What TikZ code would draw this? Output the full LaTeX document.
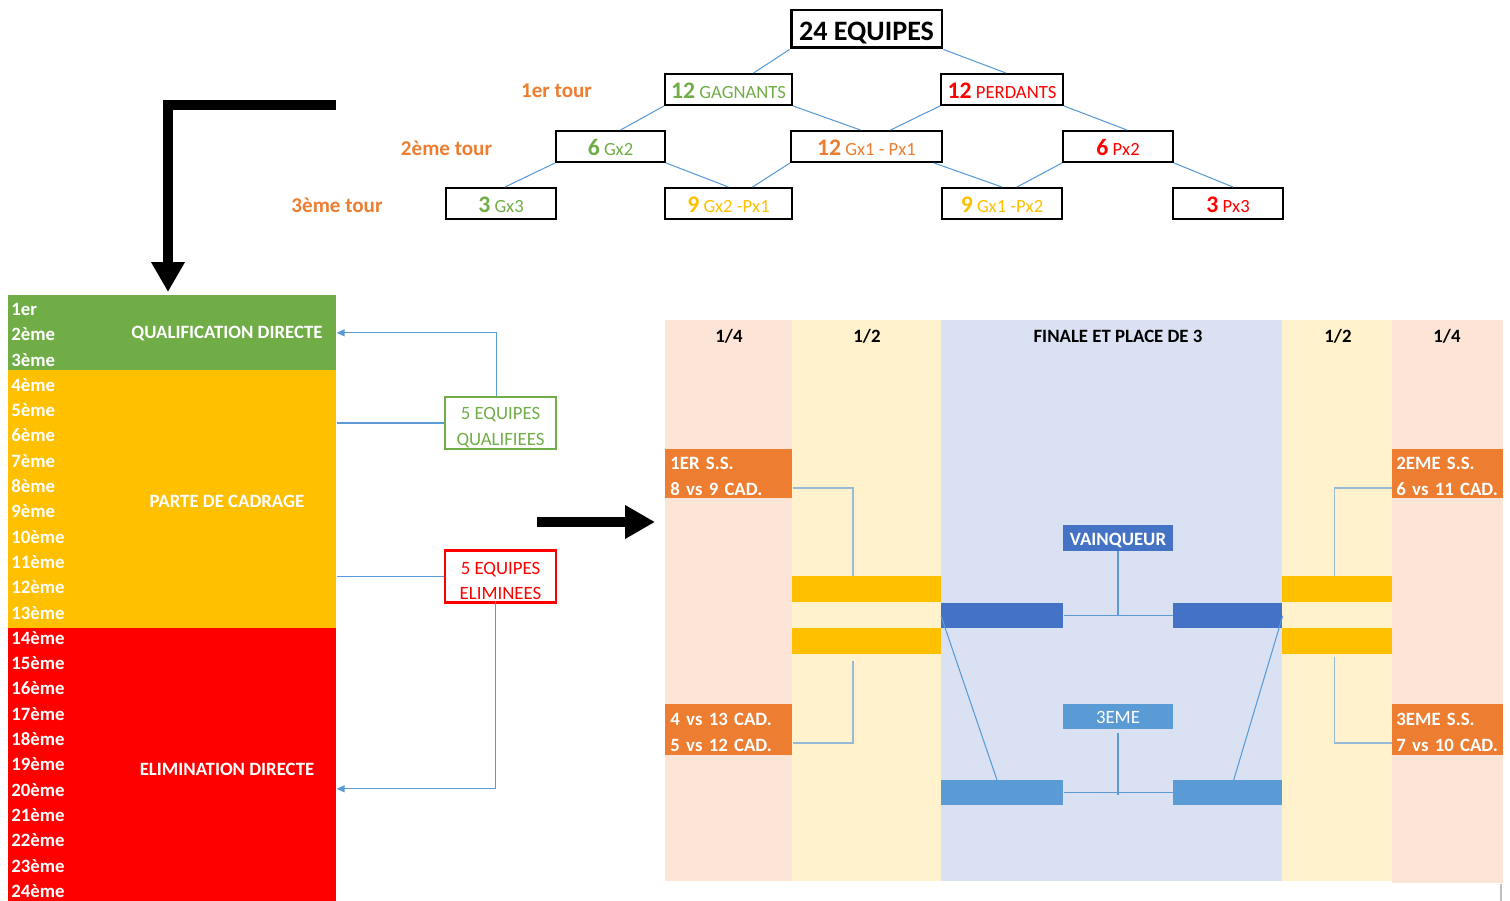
\documentclass[tikz,border=0pt]{standalone}
\usepackage{fontspec}
\setmainfont{Carlito}
\usepackage{tikz}
\usetikzlibrary{arrows.meta,calc,positioning}

\definecolor{xlorange}{RGB}{237,125,49}
\definecolor{xlgreen}{RGB}{112,173,71}
\definecolor{xlyellow}{RGB}{255,192,0}
\definecolor{xlred}{RGB}{255,0,0}
\definecolor{xlsalmon}{RGB}{252,228,214}
\definecolor{xlpaleyellow}{RGB}{255,242,204}
\definecolor{xlpaleblue}{RGB}{217,225,242}
\definecolor{xldblue}{RGB}{68,114,196}
\definecolor{xlblue}{RGB}{91,155,213}
\definecolor{xlpale}{RGB}{150,185,215}

\newcommand{\bignum}[1]{{\fontsize{13.5}{16}\selectfont\bfseries #1}}
\newcommand{\topstrut}{\rule{0pt}{10pt}}

\tikzset{
  tbox/.style={draw=black, line width=1.1pt, minimum height=0.62cm, inner sep=0pt, text height=10.5pt, text depth=0pt, font=\fontsize{10.6}{12}\selectfont},
  tour/.style={text=xlorange, font=\fontsize{12}{14}\selectfont\bfseries},
  link/.style={draw=xlblue, line width=0.6pt},
  linkpale/.style={draw=xlpale, line width=0.8pt},
  bigarrow/.style={line width=5.67pt, -{Triangle[width=18pt,length=17pt]}},
  blk/.style={minimum width=6.56cm, inner sep=0pt, anchor=north west},
  rang/.style={anchor=west, inner sep=0pt, text=white, font=\fontsize{10.7}{12}\selectfont\bfseries},
  bloctxt/.style={text=white, font=\fontsize{10.7}{12}\selectfont\bfseries},
  eqbox/.style={line width=1.4pt, minimum width=2.22cm, minimum height=1.04cm, inner sep=0pt, align=center, font=\fontsize{10.7}{14.7}\selectfont},
  head/.style={font=\fontsize{10.7}{12}\selectfont\bfseries},
  seed/.style={fill=xlorange, text=white, anchor=north west, inner ysep=0pt, align=left, font=\fontsize{10.7}{15}\selectfont\bfseries},
  ybar/.style={fill=xlyellow, minimum height=0.52cm, inner sep=0pt, anchor=north west},
  dbar/.style={fill=xldblue, minimum height=0.5cm, inner sep=0pt, anchor=north west},
  lbar/.style={fill=xlblue, minimum height=0.5cm, inner sep=0pt, anchor=north west},
}

\begin{document}
\begin{tikzpicture}[x=0.02cm,y=-0.02cm]
\useasboundingbox (0,0) rectangle (1510,901);

% arbre des tours
\node[tbox, line width=1.7pt, minimum width=3.02cm, minimum height=0.76cm, text height=13.4pt, font=\fontsize{16}{18}\selectfont\bfseries] (equipes) at (866.5,29) {24 EQUIPES};
\node[tbox, minimum width=2.54cm, text=xlgreen] (gag) at (728.5,89.5) {\bignum{12} GAGNANTS};
\node[tbox, minimum width=2.44cm, text=xlred] (per) at (1002,89.5) {\bignum{12} PERDANTS};
\node[tbox, minimum width=2.18cm, text=xlgreen] (gx2) at (610.5,146.5) {\bignum{6} Gx2};
\node[tbox, minimum width=3.02cm, text=xlorange] (gx1px1) at (866.5,146.5) {\bignum{12} Gx1 - Px1};
\node[tbox, minimum width=2.2cm, text=xlred] (px2) at (1118,146.5) {\bignum{6} Px2};
\node[tbox, minimum width=2.2cm, text=xlgreen] (gx3) at (501,203.5) {\bignum{3} Gx3};
\node[tbox, minimum width=2.54cm, text=xlyellow] (gx2px1) at (728.5,203.5) {\bignum{9} Gx2 -Px1};
\node[tbox, minimum width=2.4cm, text=xlyellow] (gx1px2) at (1002,203.5) {\bignum{9} Gx1 -Px2};
\node[tbox, minimum width=2.2cm, text=xlred] (px3) at (1228,203.5) {\bignum{3} Px3};

\node[tour] (tour1) at (556.5,91) {1er tour};
\node[tour] (tour2) at (446.5,148) {2ème tour};
\node[tour] (tour3) at (337,205) {3ème tour};

\draw[link] (equipes.south west) -- ($(gag.north)+(25,0)$);
\draw[link] (equipes.south east) -- ($(per.north)+(4,0)$);
\draw[link] (gag.south west) -- ($(gx2.north)+(10,0)$);
\draw[link] (gag.south east) -- ($(gx1px1.north)-(6,0)$);
\draw[link] (per.south west) -- ($(gx1px1.north)+(24,0)$);
\draw[link] (per.south east) -- ($(px2.north)+(9,0)$);
\draw[link] (gx2.south west) -- ($(gx3.north)+(4,0)$);
\draw[link] (gx2.south east) -- (gx2px1.north);
\draw[link] (gx1px1.south west) -- ($(gx2px1.north)+(24,0)$);
\draw[link] ($(gx1px1.south east)-(9,0)$) -- (gx1px2.north);
\draw[link] (px2.south west) -- ($(gx1px2.north)+(15,0)$);
\draw[link] (px2.south east) -- ($(px3.north)+(5,0)$);

% grosses fleches
\draw[bigarrow] (336,105) -- (168,105) -- (168,292);
\draw[bigarrow] (537,522) -- (655,522);

% classement
\node[blk, fill=xlgreen, minimum height=1.5cm] (qual) at (8,295) {};
\node[blk, fill=xlyellow, minimum height=5.16cm] (cad) at (8,370) {};
\node[blk, fill=xlred, minimum height=5.46cm] (elim) at (8,628) {};
\foreach \i in {1,...,24}{
  \pgfmathsetmacro\yy{309+(\i-1)*25.3}
  \ifnum\i=1 \node[rang] (r\i) at (11,\yy) {1er};
  \else \node[rang] (r\i) at (11,\yy) {\i ème}; \fi
}
\node[bloctxt] (tqual) at (227,334) {QUALIFICATION DIRECTE};
\node[bloctxt] (tcad) at (227,501) {PARTE DE CADRAGE};
\node[bloctxt] (telim) at (227,769) {ELIMINATION DIRECTE};

\node[eqbox, draw=xlgreen, text=xlgreen] (qf) at (500.5,423) {\rule{0pt}{12pt}5 EQUIPES\\QUALIFIEES};
\node[eqbox, draw=xlred, text=xlred] (el) at (500.5,576.5) {\rule{0pt}{12pt}5 EQUIPES\\ELIMINEES};
\draw[link] (qf.west) -- (qf.west -| cad.east);
\draw[link] (el.west) -- (el.west -| cad.east);
\draw[link, -{Triangle[length=4.5pt,width=4pt]}] ($(qf.north)-(4,0)$) |- (qual.east);
\draw[link, -{Triangle[length=4.5pt,width=4pt]}] ($(el.south)-(5,3)$) |- ($(elim.east)+(0,24)$);

% tableau final
\fill[xlsalmon] (665,320) rectangle (792,881);
\fill[xlpaleyellow] (792,320) rectangle (941,881);
\fill[xlpaleblue] (941,320) rectangle (1282,881);
\fill[xlpaleyellow] (1282,320) rectangle (1392,881);
\fill[xlsalmon] (1392,320) rectangle (1503,883);
\draw[gray!50, line width=1pt] (1501,884) -- (1501,901);

\node[head] (h1) at (729,336) {1/4};
\node[head] (h2) at (867,336) {1/2};
\node[head] (h3) at (1118,336) {FINALE ET PLACE DE 3};
\node[head] (h4) at (1338,336) {1/2};
\node[head] (h5) at (1447,336) {1/4};

\node[seed, text width=2.34cm, inner xsep=0.1cm, minimum height=0.98cm] (q1) at (665,449) {\topstrut 1ER S.S.\\8 vs 9 CAD.};
\node[seed, text width=2.34cm, inner xsep=0.1cm, minimum height=1.02cm] (q2) at (665,704) {\topstrut 4 vs 13 CAD.\\5 vs 12 CAD.};
\node[seed, text width=2.06cm, inner xsep=0.08cm, minimum height=0.98cm] (q3) at (1392,449) {\topstrut 2EME S.S.\\6 vs 11 CAD.};
\node[seed, text width=2.06cm, inner xsep=0.08cm, minimum height=1.02cm] (q4) at (1392,704) {\topstrut 3EME S.S.\\7 vs 10 CAD.};

\node[ybar, minimum width=2.98cm] (sfl1) at (792,576) {};
\node[ybar, minimum width=2.98cm] (sfl2) at (792,628) {};
\node[ybar, minimum width=2.2cm] (sfr1) at (1282,576) {};
\node[ybar, minimum width=2.2cm] (sfr2) at (1282,628) {};

\node[dbar, minimum width=2.44cm] (fl) at (941,603) {};
\node[dbar, minimum width=2.18cm] (fr) at (1173,603) {};
\node[lbar, minimum width=2.44cm] (pl) at (941,780) {};
\node[lbar, minimum width=2.18cm] (pr) at (1173,780) {};

\node[fill=xldblue, text=white, minimum width=2.2cm, minimum height=0.52cm, inner sep=0pt, text height=8.5pt, text depth=0pt, font=\fontsize{10.7}{12}\selectfont\bfseries] (vq) at (1118,538) {VAINQUEUR};
\node[fill=xlblue, text=white, minimum width=2.2cm, minimum height=0.5cm, inner sep=0pt, text height=8pt, text depth=0pt, font=\fontsize{10.7}{12}\selectfont] (tr) at (1118,716.5) {3EME};

\draw[linkpale] ($(q1.east)+(0,14)$) -| ($(sfl1.north)-(14,0)$);
\draw[linkpale] ($(q2.east)+(0,13)$) -| ($(sfl2.south)-(14,-6)$);
\draw[linkpale] ($(q3.west)+(0,14)$) -| ($(sfr1.north)-(3,0)$);
\draw[linkpale] ($(q4.west)+(0,13)$) -| ($(sfr2.south)-(3,-2)$);

\draw[link] (fl.east) -- (fr.west);
\draw[link] (vq.south) -- (vq.south |- fl.east);
\draw[link] (pl.east) -- (pr.west);
\draw[link] ($(tr.south)+(0,4)$) -- ($(tr.south |- pl.east)+(0,2)$);
\draw[link] (fl.west) -- ($(pl.north west)+(56,0)$);
\draw[link] (fr.east) -- ($(pr.north east)-(49,0)$);
\end{tikzpicture}
\end{document}
